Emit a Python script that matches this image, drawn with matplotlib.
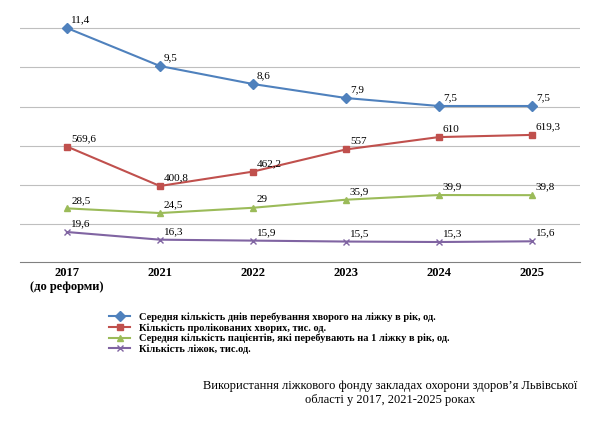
import matplotlib.pyplot as plt

years = ["2017\n(до реформи)", "2021", "2022", "2023", "2024", "2025"]
series = [
    ("Середня кількість днів перебування хворого на ліжку в рік, од.",
     [11.4, 9.5, 8.6, 7.9, 7.5, 7.5], "#4f81bd", "D", (-0.3, 11.8)),
    ("Кількість пролікованих хворих, тис. од.",
     [569.6, 400.8, 462.2, 557, 610, 619.3], "#c0504d", "s", (75.5, 1111)),
    ("Середня кількість пацієнтів, які перебувають на 1 ліжку в рік, од.",
     [28.5, 24.5, 29, 35.9, 39.9, 39.8], "#9bbb59", "^", (-17.4, 189.7)),
    ("Кількість ліжок, тис.од.",
     [19.6, 16.3, 15.9, 15.5, 15.3, 15.6], "#8064a2", "x", (6.7, 110.8)),
]

fig = plt.figure(frameon=False)
fig.set_size_inches(6, 4.42)
ax = fig.add_axes([20/600, 180/442, 560/600, 242/442])
x = list(range(len(years)))
for yg in [28, 67, 107, 146, 185, 224]:
    ax.axhline(1 - (yg - 20) / 242, color="#bfbfbf", lw=0.8, zorder=0)
ax.set_ylim(0, 1)
ax.set_xlim(-0.505, 5.52)
ax.set_yticks([])
ax.set_xticks(x)
ax.set_xticklabels(years, fontweight="bold", fontsize=9, family="Liberation Serif")
ax.tick_params(axis="x", length=0)
for s in ["top", "right", "left"]:
    ax.spines[s].set_visible(False)
ax.spines["bottom"].set_color("#808080")

handles = []
for label, vals, color, marker, lim in series:
    a = ax.twinx()
    a.set_ylim(*lim)
    a.set_xlim(ax.get_xlim())
    a.axis("off")
    h, = a.plot(x, vals, color=color, marker=marker, markersize=5, lw=1.5, label=label)
    handles.append(h)
    for xi, v in zip(x, vals):
        a.annotate(f"{v:g}".replace(".", ","), (xi, v), xytext=(3, 4),
                   textcoords="offset points", fontsize=8, family="Liberation Serif")

fig.legend(handles=handles, loc="upper left", bbox_to_anchor=(100/600, 1 - 303/442),
           frameon=False, fontsize=7.5, prop={"family": "Liberation Serif", "weight": "bold", "size": 7.5},
           handlelength=2, labelspacing=0.1)
fig.text(390/600, 1 - 393/442,
         "Використання ліжкового фонду закладах охорони здоров’я Львівської\nобласті у 2017, 2021-2025 роках",
         ha="center", va="center", fontsize=9, family="Liberation Serif")

plt.savefig("out.png", dpi=100)
plt.close(fig)
